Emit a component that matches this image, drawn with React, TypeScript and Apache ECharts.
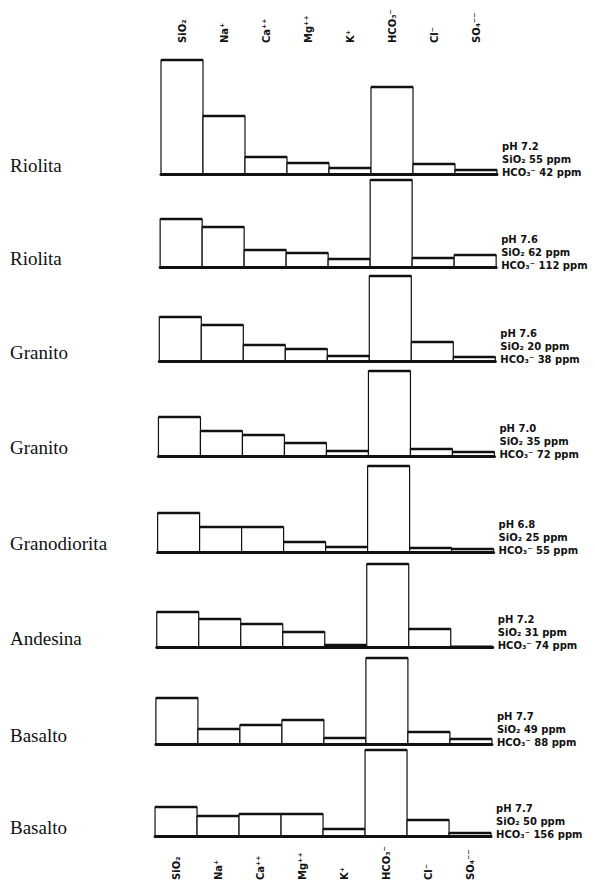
import React, { useEffect, useRef } from "react";
import * as echarts from "echarts";

// Ion categories (as printed above / below the panels)
const IONS = ["SiO₂", "Na⁺", "Ca⁺⁺", "Mg⁺⁺", "K⁺", "HCO₃⁻", "Cl⁻", "SO₄⁻⁻"];

// Rock type of each panel
const ROCKS = ["Riolita", "Riolita", "Granito", "Granito", "Granodiorita", "Andesina", "Basalto", "Basalto"];

// Annotations on the right
const PH = ["7.2", "7.6", "7.6", "7.0", "6.8", "7.2", "7.7", "7.7"];
const SIO2_PPM = [55, 62, 20, 35, 25, 31, 49, 50];
const HCO3_PPM = [42, 112, 38, 72, 55, 74, 88, 156];

// Relative ion concentrations (arbitrary common scale)
const RIOLITA_1 = [114, 58, 17, 11, 6, 87, 10, 4];
const RIOLITA_2 = [48, 40, 17, 14, 8, 87, 9, 12];
const GRANITO_1 = [44, 36, 16, 12, 5, 85, 19, 4];
const GRANITO_2 = [39, 25, 21, 13, 5, 85, 7, 4];
const GRANODIORITA = [39, 25, 25, 10, 5, 86, 4, 3];
const ANDESINA = [35, 28, 23, 15, 2, 83, 18, 0.3];
const BASALTO_1 = [46, 15, 19, 24, 6, 86, 12, 5];
const BASALTO_2 = [29, 20, 22, 22, 7, 86, 16, 3];

const ROWS = [RIOLITA_1, RIOLITA_2, GRANITO_1, GRANITO_2, GRANODIORITA, ANDESINA, BASALTO_1, BASALTO_2];

// layout
const BASES = [174, 267, 361, 456, 552, 647, 744, 836];
const GRID_H = 126;
const GRID_W = 336;
const Y_MAX = 126;
const leftOf = (i: number) => 161 - i * 0.85;

const INK = "#111";

export default function App() {
  const ref = useRef<HTMLDivElement>(null);

  useEffect(() => {
    if (!ref.current) return;
    const chart = echarts.init(ref.current, null, { renderer: "svg" });

    const renderItem = (params: any, api: any) => {
      const idx = api.value(0);
      const v = api.value(1);
      const top = api.coord([idx, v]);
      const base = api.coord([idx, 0]);
      const w = api.size([1, 0])[0];
      const x0 = top[0] - w / 2;
      return {
        type: "group",
        children: [
          {
            type: "rect",
            shape: { x: x0, y: top[1], width: w, height: Math.max(0, base[1] - top[1]) },
            style: { fill: "#fff", stroke: INK, lineWidth: 1.2 },
          },
          {
            type: "line",
            shape: { x1: x0, y1: top[1], x2: x0 + w, y2: top[1] },
            style: { stroke: INK, lineWidth: 2.6 },
          },
        ],
      };
    };

    const labelFont = {
      fontFamily: "DejaVu Sans",
      fontWeight: "bold" as const,
      fontSize: 10,
      color: INK,
    };

    const grids: any[] = ROWS.map((_, i) => ({
      left: leftOf(i),
      top: BASES[i] - GRID_H,
      width: GRID_W,
      height: GRID_H,
    }));
    // invisible strip at the very top that carries the upper ion labels
    grids.push({ left: leftOf(0), top: 0, width: GRID_W, height: 43 });

    const xAxes: any[] = ROWS.map((_, i) => ({
      type: "category",
      gridIndex: i,
      data: IONS,
      boundaryGap: true,
      axisLine: { show: true, lineStyle: { color: INK, width: 3 } },
      axisTick: { show: false },
      splitLine: { show: false },
      axisLabel:
        i === ROWS.length - 1
          ? { show: true, rotate: 90, interval: 0, margin: 44, align: "left", verticalAlign: "middle", ...labelFont }
          : { show: false },
      z: 5,
    }));
    xAxes.push({
      type: "category",
      gridIndex: ROWS.length,
      position: "bottom",
      data: IONS,
      boundaryGap: true,
      axisLine: { show: false },
      axisTick: { show: false },
      splitLine: { show: false },
      axisLabel: { show: true, rotate: 90, interval: 0, margin: 0, align: "left", verticalAlign: "middle", ...labelFont },
    });

    const yAxes: any[] = ROWS.map((_, i) => ({
      type: "value",
      gridIndex: i,
      min: 0,
      max: Y_MAX,
      show: false,
    }));
    yAxes.push({ type: "value", gridIndex: ROWS.length, min: 0, max: 1, show: false });

    const series = ROWS.map((vals, i) => ({
      type: "custom",
      xAxisIndex: i,
      yAxisIndex: i,
      data: vals.map((v, j) => [j, v]),
      encode: { x: 0, y: 1 },
      renderItem,
      clip: false,
      silent: true,
      z: 2,
    }));

    const graphics: any[] = [];
    ROWS.forEach((_, i) => {
      const b = BASES[i];
      graphics.push({
        type: "text",
        x: 10,
        y: b - 9,
        style: {
          text: ROCKS[i],
          fontFamily: "Liberation Serif",
          fontSize: 19,
          fill: INK,
          align: "left",
          verticalAlign: "middle",
        },
      });
      const rx = leftOf(i) + 341;
      const lines = [`pH ${PH[i]}`, `SiO₂ ${SIO2_PPM[i]} ppm`, `HCO₃⁻ ${HCO3_PPM[i]} ppm`];
      lines.forEach((t, k) => {
        graphics.push({
          type: "text",
          x: rx,
          y: b - 28 + k * 13,
          style: {
            text: t,
            fontFamily: "DejaVu Sans",
            fontWeight: "bold",
            fontSize: 10,
            fill: INK,
            align: "left",
            verticalAlign: "middle",
          },
        });
      });
    });

    chart.setOption({
      animation: false,
      backgroundColor: "#fff",
      grid: grids,
      xAxis: xAxes,
      yAxis: yAxes,
      series,
      graphic: graphics,
    });

    return () => chart.dispose();
  }, []);

  return (
    <div
      ref={ref}
      style={{ position: "fixed", left: 0, top: 0, width: 595, height: 884, background: "#fff" }}
    />
  );
}
